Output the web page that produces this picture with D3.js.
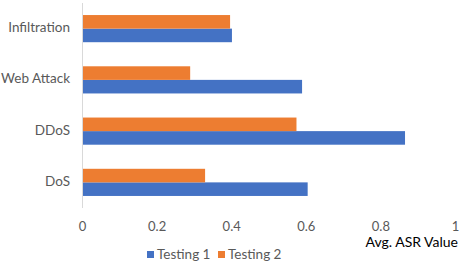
<!DOCTYPE html>
<html>
<head>
<meta charset="utf-8">
<script src="https://cdn.jsdelivr.net/npm/d3@7"></script>
<style>
  body { margin: 0; background: #fff; }
  svg text { font-family: Lato, "Open Sans", sans-serif; }
</style>
</head>
<body>
<div id="chart"></div>
<script>
// categories top to bottom
const categories = ["Infiltration", "Web Attack", "DDoS", "DoS"];
const seriesNames = ["Testing 1", "Testing 2"];
const testing1 = [0.402, 0.59, 0.866, 0.605];
const testing2 = [0.397, 0.29, 0.575, 0.33];
const xTicks = [0, 0.2, 0.4, 0.6, 0.8, 1];
const colors = ["#4472C4", "#ED7D31"];

let width = 463, height = 266,
    margin = {top: 3, left: 82, right: 8, bottom: 58};

let svg = d3.select("#chart")
  .append("svg")
    .attr("width", width)
    .attr("height", height);

let innerW = width - margin.left - margin.right,
    innerH = height - margin.top - margin.bottom;

let xScale = d3.scaleLinear().domain([0, 1]).range([margin.left, margin.left + 373]);
let yScale = d3.scaleBand().domain(categories)
    .range([margin.top, margin.top + innerH]).paddingInner(0.47).paddingOuter(0.235);
// orange sits on top, blue below
let inner = d3.scaleBand().domain(["Testing 2", "Testing 1"]).range([0, yScale.bandwidth()]);

let data = categories.map((c, i) => ({cat: c, vals: [testing1[i], testing2[i]]}));

let groups = svg.append("g").selectAll("g")
  .data(data)
  .enter().append("g")
    .attr("transform", d => "translate(0," + yScale(d.cat) + ")");

groups.selectAll("rect")
  .data(d => d.vals.map((v, k) => ({name: seriesNames[k], v: v, k: k})))
  .enter().append("rect")
    .attr("x", xScale(0))
    .attr("y", d => inner(d.name))
    .attr("width", d => xScale(d.v) - xScale(0))
    .attr("height", inner.bandwidth())
    .attr("fill", d => colors[d.k]);

// vertical axis line
svg.append("line")
  .attr("x1", xScale(0) + 0.5).attr("x2", xScale(0) + 0.5)
  .attr("y1", margin.top).attr("y2", margin.top + innerH)
  .attr("stroke", "#d9d9d9").attr("stroke-width", 1);

// category labels
let yAxis = svg.append("g")
  .attr("transform", "translate(" + (xScale(0) - 12) + ",0)")
  .call(d3.axisLeft(yScale).tickSize(0).tickPadding(0));
yAxis.select(".domain").remove();
yAxis.selectAll("text")
  .attr("fill", "#595959")
  .style("font-size", "13.5px")
  .attr("dy", "0.25em");

// x tick labels
let xAxis = svg.append("g")
  .attr("transform", "translate(0," + (margin.top + innerH) + ")")
  .call(d3.axisBottom(xScale).tickValues(xTicks).tickFormat(d3.format("")).tickSize(0).tickPadding(14));
xAxis.select(".domain").remove();
xAxis.selectAll("text")
  .attr("fill", "#595959")
  .style("font-size", "13px");

// axis title
svg.append("text")
  .attr("x", 458).attr("y", 247)
  .attr("text-anchor", "end")
  .attr("fill", "#000")
  .style("font-size", "14px")
  .text("Avg. ASR Value");

// legend
let legend = svg.append("g").selectAll("g")
  .data(seriesNames)
  .enter().append("g")
    .attr("transform", (d, i) => "translate(" + (147 + i * 71) + ",251)");
legend.append("rect")
  .attr("width", 7).attr("height", 7)
  .attr("fill", (d, i) => colors[i]);
legend.append("text")
  .attr("x", 10).attr("y", 8)
  .attr("fill", "#595959")
  .style("font-size", "13.5px")
  .text(d => d);
</script>
</body>
</html>
